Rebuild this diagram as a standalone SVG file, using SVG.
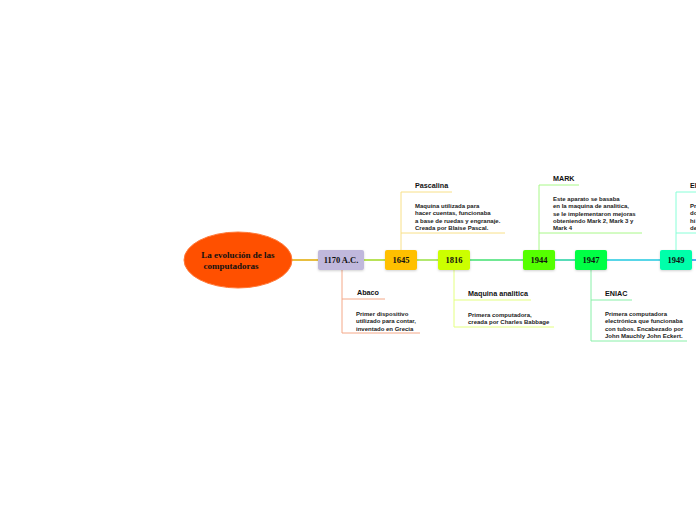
<svg xmlns="http://www.w3.org/2000/svg" width="696" height="520" viewBox="0 0 696 520">
<defs>
<filter id="sh" x="-20%" y="-30%" width="140%" height="160%">
<feDropShadow dx="0" dy="1" stdDeviation="1" flood-color="#000" flood-opacity="0.18"/>
</filter>
<style>
.nt{font-family:"Liberation Serif","Times New Roman",serif;font-weight:bold;font-size:8.5px;fill:#111;text-anchor:middle}
.tt{font-family:"Liberation Serif","Times New Roman",serif;font-weight:bold;font-size:9px;fill:#111}
.h{font-family:"Liberation Sans",Arial,sans-serif;font-weight:bold;font-size:7.2px;fill:#111}
.d{font-family:"Liberation Sans",Arial,sans-serif;font-weight:bold;font-size:6px;fill:#222}
.ln{fill:none;stroke-width:1}
</style>
</defs>
<rect width="696" height="520" fill="#ffffff"/>
<g id="connectors">
<line x1="290" y1="260" x2="318" y2="260" stroke="#e0a800" stroke-width="1.5"/>
<line x1="364" y1="260" x2="385" y2="260" stroke="#a0d820" stroke-width="1.5"/>
<line x1="417" y1="260" x2="438" y2="260" stroke="#98e040" stroke-width="1.5"/>
<line x1="470" y1="260" x2="523" y2="260" stroke="#40e070" stroke-width="1.5"/>
<line x1="555" y1="260" x2="575" y2="260" stroke="#20d0a0" stroke-width="1.5"/>
<line x1="607" y1="260" x2="660" y2="260" stroke="#20c8e0" stroke-width="1.5"/>
<line x1="692" y1="260" x2="696" y2="260" stroke="#2090f0" stroke-width="1.5"/>
<g stroke="#f4a888" class="ln">
<polyline points="342,270 342,333 420,333"/>
<line x1="342" y1="299" x2="385" y2="299"/>
</g>
<g stroke="#f8e088" class="ln">
<polyline points="401,250 401,192 452,192"/>
<line x1="401" y1="233" x2="505" y2="233"/>
</g>
<g stroke="#e4ff80" class="ln">
<polyline points="454,270 454,327 554,327"/>
<line x1="454" y1="300" x2="531" y2="300"/>
</g>
<g stroke="#a8f888" class="ln">
<polyline points="539,250 539,185 579,185"/>
<line x1="539" y1="233" x2="642" y2="233"/>
</g>
<g stroke="#88f0a8" class="ln">
<polyline points="591,270 591,341 687,341"/>
<line x1="591" y1="300" x2="632" y2="300"/>
</g>
<g stroke="#88ffd8" class="ln">
<polyline points="676,250 676,192 696,192"/>
<line x1="676" y1="233" x2="696" y2="233"/>
</g>
</g>
<g id="root">
<ellipse cx="238" cy="260" rx="54" ry="28" fill="#ff5000" stroke="#ff7a3a" stroke-width="1"/>
<text class="tt" x="238" y="258" text-anchor="middle">La evolución de las</text>
<text class="tt" x="231" y="269" text-anchor="middle">computadoras</text>
</g>
<g id="n1170">
<rect x="318" y="250" width="46" height="20" rx="2" fill="#c0b8dc" filter="url(#sh)"/>
<text class="nt" x="341" y="263">1170 A.C.</text>
<text class="h" x="357" y="295">Abaco</text>
<text class="d" x="356" y="316">Primer dispositivo</text>
<text class="d" x="356" y="323.3">utilizado para contar,</text>
<text class="d" x="356" y="330.6">inventado en Grecia</text>
</g>
<g id="n1645">
<rect x="385" y="250" width="32" height="20" rx="2" fill="#ffc000" filter="url(#sh)"/>
<text class="nt" x="401" y="263">1645</text>
<text class="h" x="415" y="188">Pascalina</text>
<text class="d" x="415" y="208">Maquina utilizada para</text>
<text class="d" x="415" y="215.3">hacer cuentas, funcionaba</text>
<text class="d" x="415" y="222.6">a base de ruedas y engranaje.</text>
<text class="d" x="415" y="229.9">Creada por Blaise Pascal.</text>
</g>
<g id="n1816">
<rect x="438" y="250" width="32" height="20" rx="2" fill="#ccff00" filter="url(#sh)"/>
<text class="nt" x="454" y="263">1816</text>
<text class="h" x="468" y="296">Maquina analitica</text>
<text class="d" x="468" y="317">Primera computadora,</text>
<text class="d" x="468" y="324">creada por Charles Babbage</text>
</g>
<g id="n1944">
<rect x="523" y="250" width="32" height="20" rx="2" fill="#55ff00" filter="url(#sh)"/>
<text class="nt" x="539" y="263">1944</text>
<text class="h" x="553" y="181">MARK</text>
<text class="d" x="553" y="201">Este aparato se basaba</text>
<text class="d" x="553" y="208.3">en la maquina de analitica,</text>
<text class="d" x="553" y="215.6">se le implementaron mejoras</text>
<text class="d" x="553" y="222.9">obteniendo Mark 2, Mark 3 y</text>
<text class="d" x="553" y="230.2"> Mark 4</text>
</g>
<g id="n1947">
<rect x="575" y="250" width="32" height="20" rx="2" fill="#00ff44" filter="url(#sh)"/>
<text class="nt" x="591" y="263">1947</text>
<text class="h" x="605" y="296">ENIAC</text>
<text class="d" x="605" y="316">Primera computadora</text>
<text class="d" x="605" y="323.3">electrónica que funcionaba</text>
<text class="d" x="605" y="330.6">con tubos. Encabezado por</text>
<text class="d" x="605" y="337.9">John Mauchly John Eckert.</text>
</g>
<g id="n1949">
<rect x="660" y="250" width="32" height="20" rx="2" fill="#00ffaa" filter="url(#sh)"/>
<text class="nt" x="676" y="263">1949</text>
<text class="h" x="690" y="188">EI</text>
<text class="d" x="690" y="208">Pr</text>
<text class="d" x="690" y="215.3">do</text>
<text class="d" x="690" y="222.6">hi</text>
<text class="d" x="690" y="229.9">de</text>
</g>
</svg>
